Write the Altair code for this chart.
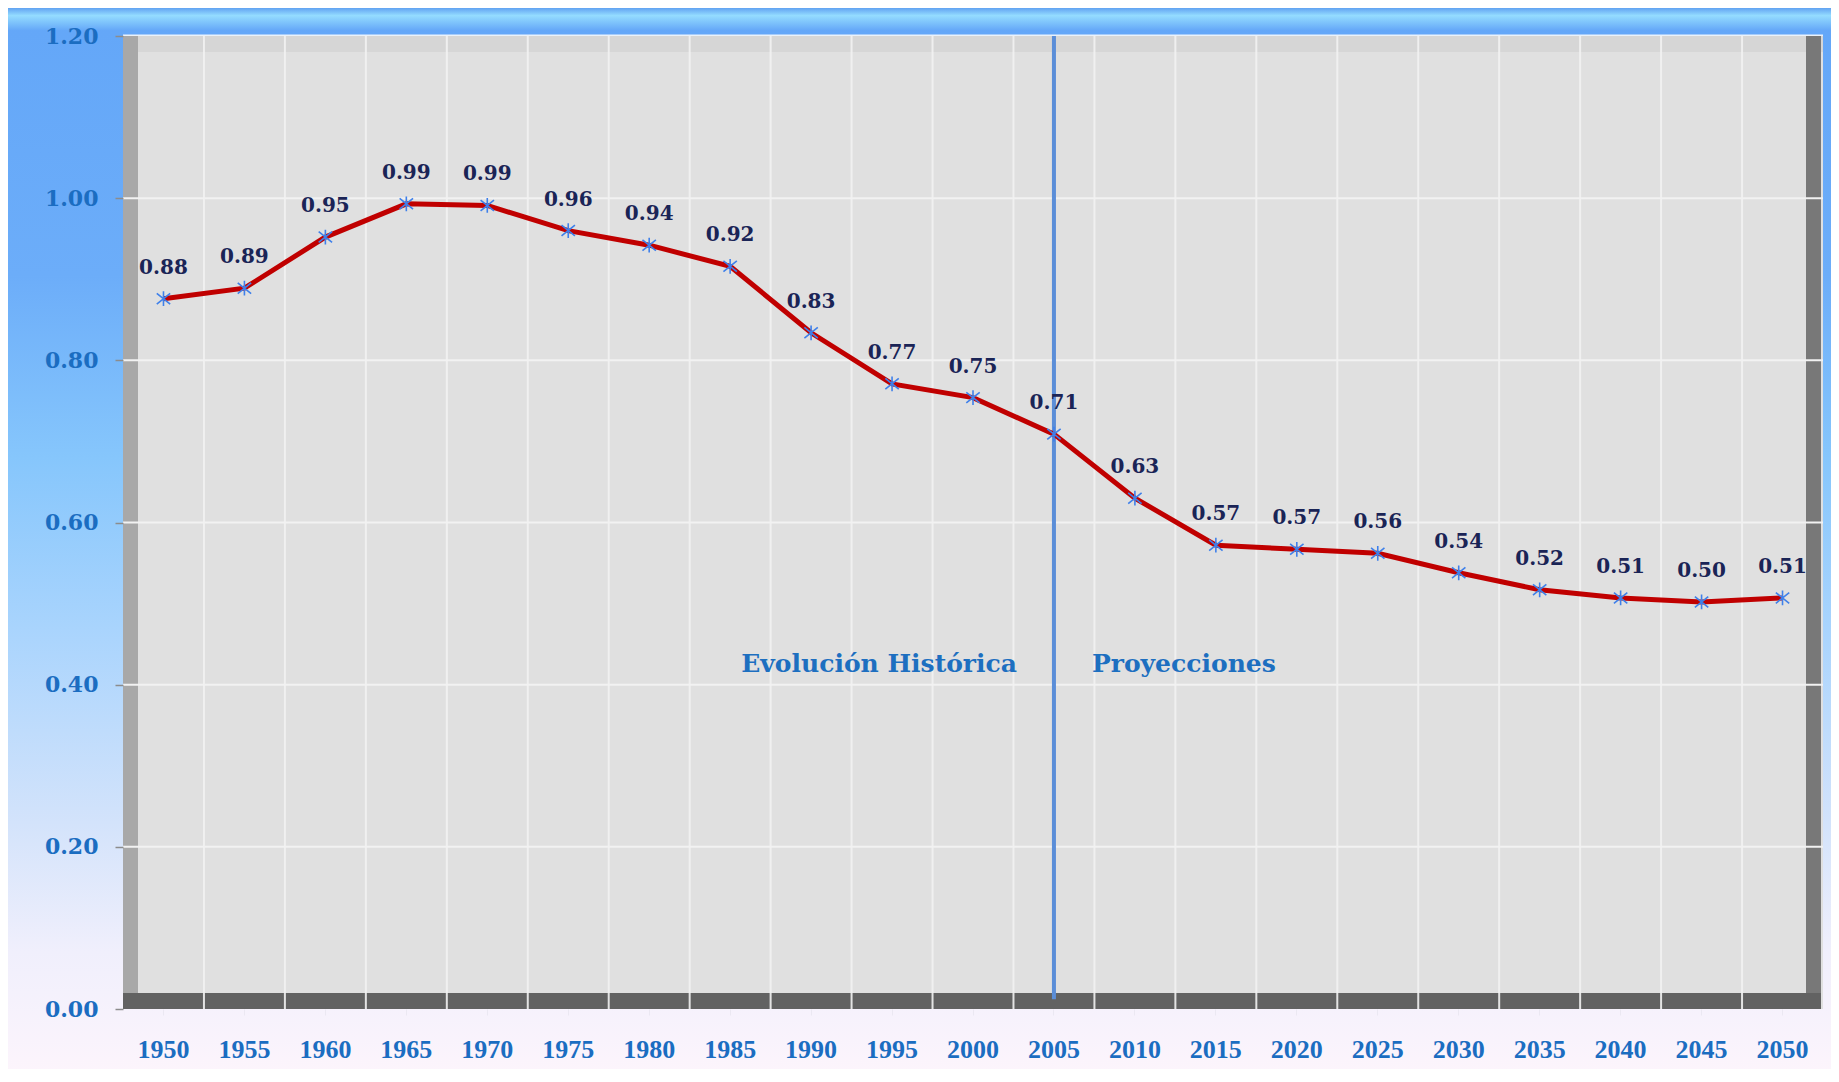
import altair as alt
import pandas as pd

years = ["1950", "1955", "1960", "1965", "1970", "1975", "1980", "1985", "1990", "1995",
         "2000", "2005", "2010", "2015", "2020", "2025", "2030", "2035", "2040", "2045", "2050"]
values = [0.876, 0.889, 0.952, 0.993, 0.991, 0.960, 0.942, 0.916, 0.834, 0.771,
          0.754, 0.709, 0.630, 0.572, 0.567, 0.562, 0.538, 0.517, 0.507, 0.502, 0.507]
y_ticks = [0.0, 0.2, 0.4, 0.6, 0.8, 1.0, 1.2]
grid_y = [0.2, 0.4, 0.6, 0.8, 1.0]
divider_year = "2005"
annot_left = "Evolución Histórica"
annot_right = "Proyecciones"
annot_y = 0.425

W, H = 1700, 973
BAND = W / len(years)

df = pd.DataFrame({"year": years, "value": values})
grid_y_df = pd.DataFrame({"v": grid_y})
grid_x_df = pd.DataFrame({"year": years[1:]})
one = pd.DataFrame({"k": [0]})
div_df = pd.DataFrame({"year": [divider_year], "top": [1.2], "bottom": [0.012]})
annot_df = pd.DataFrame({"year": [divider_year], "v": [annot_y], "l": [annot_left], "r": [annot_right]})

xscale = alt.Scale(type="band", domain=years, paddingInner=0, paddingOuter=0)
yscale = alt.Scale(domain=[0, 1.2], nice=False, zero=True)

x_axis = alt.Axis(labelAngle=0, labelFont="Liberation Serif", labelFontWeight="bold",
                  labelFontSize=26, labelColor="#1b6dc1", labelPadding=21, tickSize=6,
                  tickColor="#ebe8f2", domain=False, grid=False, zindex=2)
y_axis = alt.Axis(values=y_ticks, format=".2f", labelFont="DejaVu Serif", labelFontWeight="bold",
                  labelFontSize=22, labelColor="#1b6dc1", labelPadding=17, tickSize=8,
                  tickColor="#8c8c8c", tickWidth=1.5, domain=False, grid=False, zindex=2)


def X():
    return alt.X("year:N", scale=xscale, title=None, sort=None, axis=x_axis)


def Y(field):
    return alt.Y(field, scale=yscale, title=None, axis=y_axis)


bg_grad = alt.LinearGradient(
    gradient="linear", x1=0, y1=0, x2=0, y2=1,
    stops=[
        alt.GradientStop(color="#5b9bf0", offset=0.0),
        alt.GradientStop(color="#94dcff", offset=0.008),
        alt.GradientStop(color="#64a7f8", offset=0.022),
        alt.GradientStop(color="#6cadf9", offset=0.25),
        alt.GradientStop(color="#86c6fc", offset=0.42),
        alt.GradientStop(color="#a9d4fd", offset=0.58),
        alt.GradientStop(color="#d3e3fb", offset=0.76),
        alt.GradientStop(color="#f0effc", offset=0.88),
        alt.GradientStop(color="#fdf5fc", offset=1.0),
    ],
)

background = alt.Chart(one).mark_rect(fill=bg_grad).encode(
    x=alt.value(-120), x2=alt.value(W + 20), y=alt.value(-29), y2=alt.value(H + 71)
)
top_edge = alt.Chart(one).mark_rect(fill="#eaf2fb").encode(
    x=alt.value(0), x2=alt.value(W), y=alt.value(-1.5), y2=alt.value(0)
)
backwall = alt.Chart(one).mark_rect(fill="#e0e0e0").encode(
    x=alt.value(0), x2=alt.value(W), y=alt.value(0), y2=alt.value(H)
)
topband = alt.Chart(one).mark_rect(fill="#d6d6d6").encode(
    x=alt.value(0), x2=alt.value(W), y=alt.value(0), y2=alt.value(16)
)
leftwall = alt.Chart(one).mark_rect(fill="#a8a8a8").encode(
    x=alt.value(0), x2=alt.value(15), y=alt.value(0), y2=alt.value(H)
)
rightwall = alt.Chart(one).mark_rect(fill="#787878").encode(
    x=alt.value(W - 17), x2=alt.value(W - 2), y=alt.value(0), y2=alt.value(H)
)
floor = alt.Chart(one).mark_rect(fill="#626262").encode(
    x=alt.value(0), x2=alt.value(W - 2), y=alt.value(H - 16), y2=alt.value(H)
)

hgrid = alt.Chart(grid_y_df).mark_rule(color="#f2f2f2", strokeWidth=2).encode(
    y=Y("v:Q")
)
vgrid = alt.Chart(grid_x_df).mark_rule(
    color="#f2f2f2", strokeWidth=2, opacity=0.9, xOffset=-BAND / 2
).encode(x=X())

divider = alt.Chart(div_df).mark_rule(color="#5b8ed8", strokeWidth=4).encode(
    x=X(), y=Y("top:Q"), y2="bottom:Q"
)

annot_font = dict(font="DejaVu Serif", fontWeight="bold", fontSize=25, color="#1d6fc0", baseline="middle")
left_txt = alt.Chart(annot_df).mark_text(align="right", dx=-37, **annot_font).encode(
    x=X(), y=Y("v:Q"), text="l:N"
)
right_txt = alt.Chart(annot_df).mark_text(align="left", dx=38, **annot_font).encode(
    x=X(), y=Y("v:Q"), text="r:N"
)

line = alt.Chart(df).mark_line(color="#c00000", strokeWidth=5).encode(
    x=X(), y=Y("value:Q")
)
asterisk = "M-1,-0.8L1,0.8M-1,0.8L1,-0.8M0,-1.1L0,1.1"
points = alt.Chart(df).mark_point(
    shape=asterisk, filled=False, stroke="#3f80ea", strokeWidth=1.6, size=180, opacity=1
).encode(x=X(), y=Y("value:Q"))
labels = alt.Chart(df).mark_text(
    font="DejaVu Serif", fontWeight="bold", fontSize=20, color="#1a2456", dy=-31, baseline="middle"
).encode(x=X(), y=Y("value:Q"), text=alt.Text("value:Q", format=".2f"))

chart = alt.layer(
    background, top_edge, backwall, topband, leftwall, rightwall, floor,
    hgrid, vgrid, divider, left_txt, right_txt, line, points, labels
).properties(
    width=W, height=H,
    autosize=alt.AutoSizeParams(type="none"),
    padding={"left": 115, "top": 28, "right": 8, "bottom": 60},
).configure_view(stroke=None).configure(background="white")

chart.save("out.html", embed_options={"renderer": "svg", "actions": False})
